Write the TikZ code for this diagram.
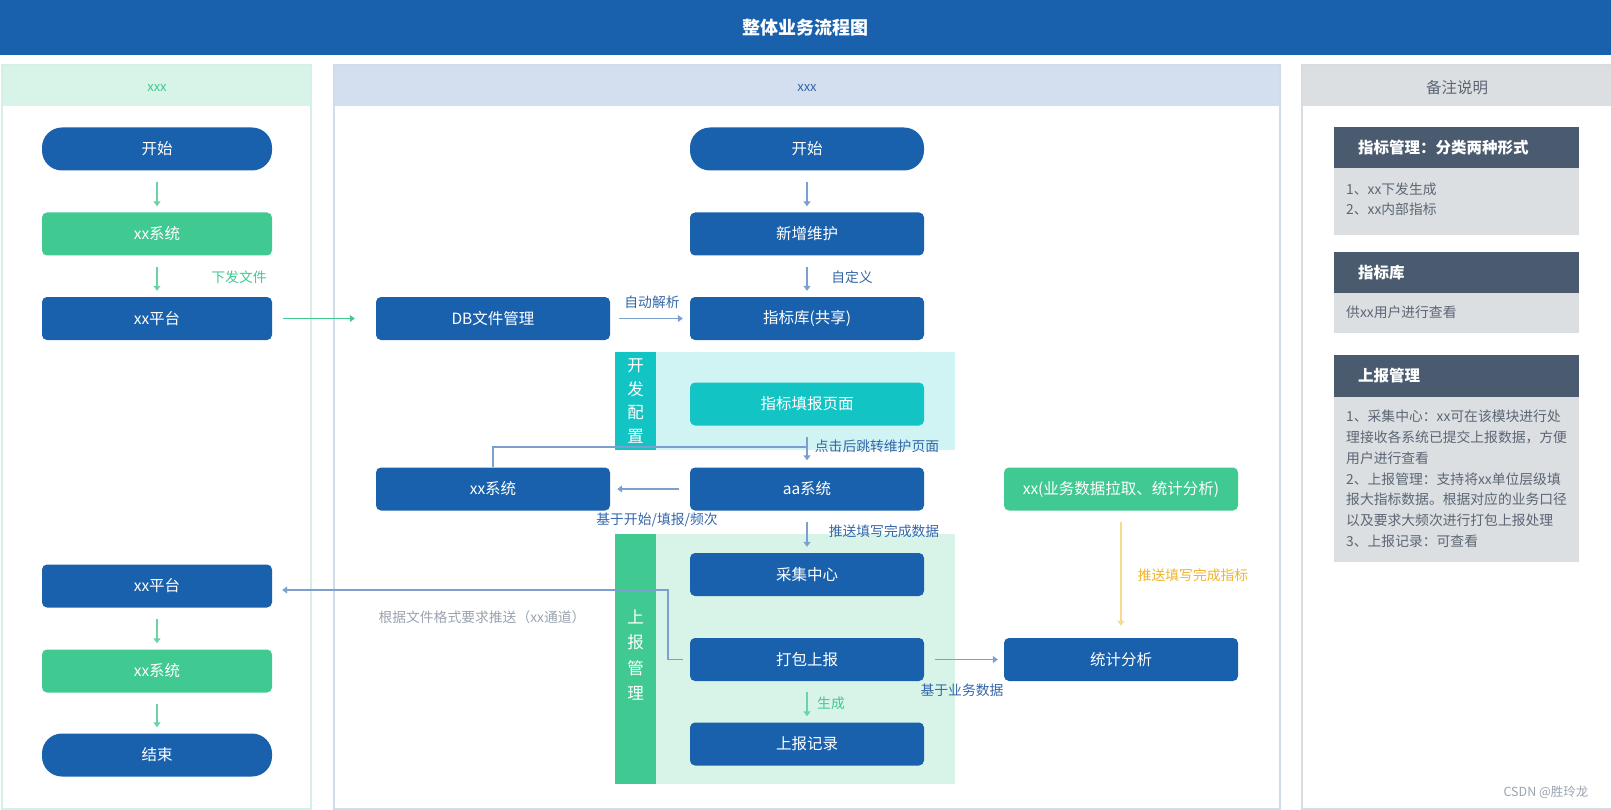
\documentclass[tikz,border=0pt]{standalone}
\usepackage{fontspec}
\setmainfont{Noto Sans CJK SC}
\usetikzlibrary{arrows.meta}

\definecolor{nodeblue}{HTML}{1A61AD}
\definecolor{nodegreen}{HTML}{40C990}
\definecolor{nodecyan}{HTML}{13C4C4}
\definecolor{bandcyan}{HTML}{D0F3F3}
\definecolor{bandgreen}{HTML}{D8F4E8}
\definecolor{headblue}{HTML}{D3DFEE}
\definecolor{headgrey}{HTML}{DCDFE2}
\definecolor{notehead}{HTML}{4A5B70}
\definecolor{notetext}{HTML}{5B6674}
\definecolor{linkblue}{HTML}{7BA0CF}
\definecolor{linkgreen}{HTML}{6CD3A8}
\definecolor{linkyellow}{HTML}{F8D98E}
\definecolor{lblblue}{HTML}{3466A8}
\definecolor{lblyellow}{HTML}{F0B429}
\definecolor{lblgrey}{HTML}{9AA3AE}
\definecolor{bordergreen}{HTML}{D5F0E6}
\definecolor{borderblue}{HTML}{CFDCEC}
\definecolor{bordergrey}{HTML}{D8DCE0}

\begin{document}
\begin{tikzpicture}[x=1pt, y=-1pt, >={Triangle[length=5pt,width=7pt]},
  box/.style={fill=nodeblue, text=white, rounded corners=5pt, minimum width=234pt,
    minimum height=43pt, inner sep=0pt, font=\fontsize{15.5}{18}\selectfont},
  pill/.style={box, rounded corners=20pt},
  gbox/.style={box, fill=nodegreen},
  cbox/.style={box, fill=nodecyan},
  flow/.style={->, line width=1.5pt, draw=linkblue, shorten <=11pt, shorten >=6pt},
  gflow/.style={flow, draw=linkgreen},
  lbl/.style={text=lblblue, inner sep=0pt, font=\fontsize{13.8}{16}\selectfont},
  vtext/.style={text=white, align=center, inner sep=0pt},
  nhead/.style={text=white, anchor=west, inner sep=0pt, font=\fontsize{15.5}{18}\selectfont\bfseries},
  nbody/.style={text=notetext, anchor=west, align=left, inner sep=0pt, font=\fontsize{13.8}{20.8}\selectfont}]
\useasboundingbox (0,0) rectangle (1611,810);

% title
\fill[nodeblue] (0,0) rectangle (1611,55);
\node[text=white, font=\fontsize{18}{20}\selectfont\bfseries] (Title) at (805.5,27.5) {整体业务流程图};

% lanes
\fill[bandgreen] (2,65) rectangle (311,106);
\draw[bordergreen, line width=1.5pt] (2,65) rectangle (311,809);
\node[text=nodegreen, font=\fontsize{13}{15}\selectfont] (LHead) at (157,88) {xxx};
\fill[headblue] (334,65) rectangle (1280,106);
\draw[borderblue, line width=1.5pt] (334,65) rectangle (1280,809);
\node[text=lblblue, font=\fontsize{13}{15}\selectfont] (MHead) at (807,88) {xxx};
\fill[headgrey] (1302,65) rectangle (1611,106);
\draw[bordergrey, line width=1.5pt] (1611,65) -- (1302,65) -- (1302,809) -- (1611,809);
\node[text=notetext, font=\fontsize{15.5}{18}\selectfont] (RHead) at (1457,88) {备注说明};

% bands
\fill[bandcyan] (615,352) rectangle (954.5,450);
\fill[nodecyan] (615,352) rectangle (655.5,450);
\node[vtext, font=\fontsize{16.5}{23.5}\selectfont] (DevLbl) at (635.5,401) {开\\发\\配\\置};
\fill[bandgreen] (615,534) rectangle (954.5,784);
\fill[nodegreen] (615,534) rectangle (655.5,784);
\node[vtext, font=\fontsize{16.5}{25.3}\selectfont] (RepLbl) at (635.5,655) {上\\报\\管\\理};

% left lane
\node[pill, minimum width=230pt] (LStart) at (157,149) {开始};
\node[gbox, minimum width=230pt] (LSys) at (157,234) {xx系统};
\node[box, minimum width=230pt] (LPlat) at (157,318.5) {xx平台};
\node[box, minimum width=230pt] (LPlat2) at (157,586) {xx平台};
\node[gbox, minimum width=230pt] (LSys2) at (157,671) {xx系统};
\node[pill, minimum width=230pt] (LEnd) at (157,755) {结束};

% middle lane
\node[pill] (MStart) at (807,149) {开始};
\node[box] (Add) at (807,234) {新增维护};
\node[box] (Lib) at (807,318.5) {指标库(共享)};
\node[box] (DB) at (493,318.5) {DB文件管理};
\node[cbox] (Page) at (807,404) {指标填报页面};
\node[box] (AA) at (807,489) {aa系统};
\node[box] (XSys) at (493,489) {xx系统};
\node[gbox] (Pull) at (1121,489) {xx(业务数据拉取、统计分析)};
\node[box] (Collect) at (807,574.5) {采集中心};
\node[box] (Pack) at (807,659.5) {打包上报};
\node[box] (Record) at (807,744) {上报记录};
\node[box] (Stat) at (1121,659.5) {统计分析};

% connectors
\draw[gflow] (LStart) -- (LSys);
\draw[gflow] (LSys) -- (LPlat);
\node[lbl, text=nodegreen] (IssueLbl) at (239,277) {下发文件};
\draw[gflow] (LPlat2) -- (LSys2);
\draw[gflow] (LSys2) -- (LEnd);
\draw[gflow, draw=nodegreen, shorten >=21pt] (LPlat) -- (DB);

\draw[flow] (MStart) -- (Add);
\draw[flow] (Add) -- (Lib);
\node[lbl] (DefLbl) at (852,277) {自定义};
\draw[flow, shorten <=9pt, shorten >=7pt] (DB) -- (Lib);
\node[lbl] (ParseLbl) at (652,302) {自动解析};
\coordinate (Join) at (807,447);
\draw[line width=1.5pt, linkblue] (XSys.north) |- (Join);
\draw[flow, shorten >=7pt] (Page) -- (AA);
\node[lbl] (JumpLbl) at (877,446) {点击后跳转维护页面};
\draw[flow, shorten >=7pt] (AA) -- (XSys);
\node[lbl] (BaseLbl) at (657,520) {基于开始/填报/频次};
\draw[flow] (AA) -- (Collect);
\node[lbl] (PushLbl) at (884,531) {推送填写完成数据};
\coordinate (Bend) at (668,590);
\draw[flow, shorten <=7pt, shorten >=10pt] (Pack.west) -| (Bend) -- (Bend -| LPlat2.east);
\node[lbl, text=lblgrey] (SendLbl) at (482,617.5) {根据文件格式要求推送（xx通道）};
\draw[flow] (Pack) -- (Stat);
\node[lbl] (BizLbl) at (962,690) {基于业务数据};
\draw[gflow] (Pack) -- (Record);
\node[lbl, text=nodegreen] (GenLbl) at (831,703) {生成};
\draw[flow, draw=linkyellow, shorten >=12pt] (Pull) -- (Stat);
\node[lbl, text=lblyellow] (IdxLbl) at (1193,575) {推送填写完成指标};

% notes
\fill[headgrey] (1333.5,127) rectangle (1579,235);
\fill[notehead] (1333.5,127) rectangle (1579,168.5);
\node[nhead] (N1Head) at (1358,148) {指标管理：分类两种形式};
\node[nbody] (N1Body) at (1346,199.3) {1、xx下发生成\\2、xx内部指标};
\fill[headgrey] (1333.5,252) rectangle (1579,333);
\fill[notehead] (1333.5,252) rectangle (1579,293);
\node[nhead] (N2Head) at (1358,272.5) {指标库};
\node[nbody] (N2Body) at (1346,312) {供xx用户进行查看};
\fill[headgrey] (1333.5,354.5) rectangle (1579,562);
\fill[notehead] (1333.5,354.5) rectangle (1579,396.5);
\node[nhead] (N3Head) at (1358,375.5) {上报管理};
\node[nbody] (N3Body) at (1346,478.8) {1、采集中心：xx可在该模块进行处\\理接收各系统已提交上报数据，方便\\用户进行查看\\2、上报管理：支持将xx单位层级填\\报大指标数据。根据对应的业务口径\\以及要求大频次进行打包上报处理\\3、上报记录：可查看};

\node[text=lblgrey, font=\fontsize{12.5}{14}\selectfont] (Mark) at (1546,792) {CSDN @胜玲龙};
\end{tikzpicture}
\end{document}
